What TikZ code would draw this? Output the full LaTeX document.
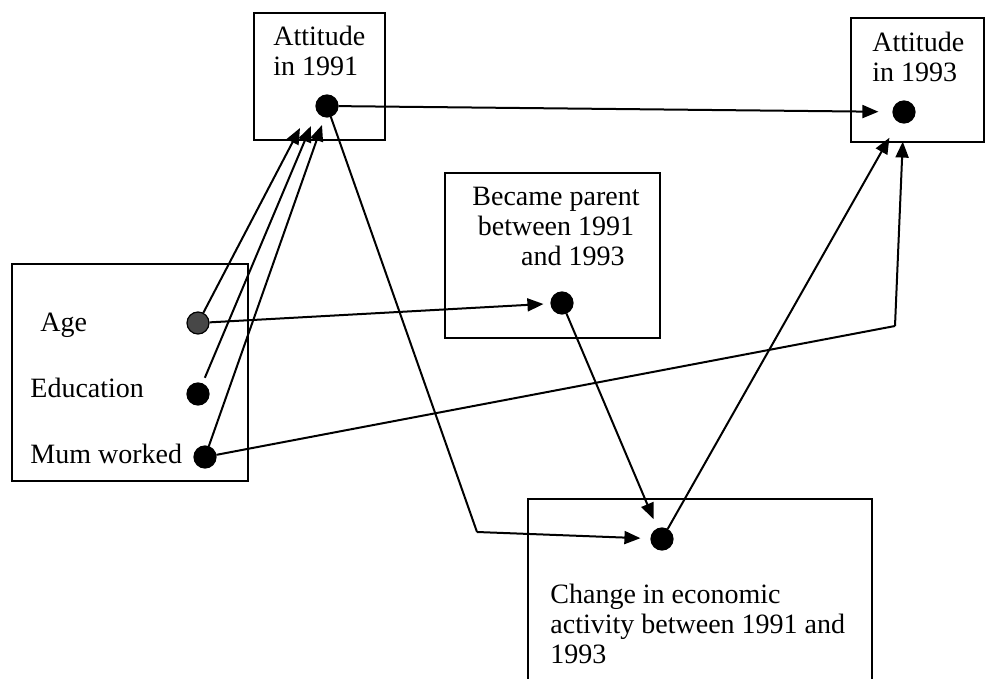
\documentclass[tikz,border=0pt]{standalone}
\usepackage{fontspec}
\setmainfont{Liberation Serif}
\usetikzlibrary{arrows.meta}
\begin{document}
\begin{tikzpicture}[x=0.5pt,y=-0.5pt,
  box/.style={draw,line width=1pt},
  dot/.style={circle,fill=black,draw=black,line width=0.6pt,inner sep=0pt,minimum size=11pt},
  greydot/.style={dot,fill=black!72},
  conn/.style={line width=1pt,-{Triangle[length=8pt,width=6.5pt]}},
  link/.style={line width=1pt},
  lbl/.style={font=\fontsize{14pt}{15pt}\selectfont,inner sep=0pt,align=left,anchor=base west}
]
\useasboundingbox (0,0) rectangle (986,679);
\fill[white] (0,0) rectangle (986,679);

% frames around the variables
\draw[box] (254,13) rectangle (385,140);
\draw[box] (851,18) rectangle (984,142);
\draw[box] (445,173) rectangle (660,338);
\draw[box] (12,264) rectangle (248,481);
\draw[box] (528,690) -- (528,499) -- (872,499) -- (872,690);

% labels (anchored at the baseline of their last line)
\node[lbl] (l91) at (273,76) {Attitude\\in 1991};
\node[lbl] (l93) at (872,82) {Attitude\\in 1993};
\node[lbl,align=center,anchor=base] (lpar) at (556,266) {Became parent\\between 1991\\\hspace{1.2em}and 1993};
\node[lbl] (lage) at (40,332) {Age};
\node[lbl] (ledu) at (30,398) {Education};
\node[lbl] (lmum) at (30,463) {Mum worked};
\node[lbl] (lchg) at (550,663) {Change in economic\\activity between 1991 and\\1993};

% variable dots
\node[dot] (d91) at (327,106) {};
\node[dot] (d93) at (904,112) {};
\node[dot] (dpar) at (562,303) {};
\node[dot] (dchg) at (662,539) {};
\node[greydot] (dage) at (198,323) {};
\node[dot] (dedu) at (198,394) {};
\node[dot] (dmum) at (205,457) {};

% arrow tips and bends
\coordinate (t1) at (300,128);
\coordinate (t2) at (311,126);
\coordinate (t3) at (322,125);
\coordinate (j1) at (477,532);
\coordinate (j2) at (895,326);

% paths
\draw[conn,shorten >=7pt] (d91) -- (d93);
\draw[conn] (dage) -- (t1);
\draw[conn,shorten <=3pt] (dedu) -- (t2);
\draw[conn] (dmum) -- (t3);
\draw[conn,shorten >=3.5pt] (dage) -- (dpar);
\draw[link] (d91) -- (j1);
\draw[conn,shorten >=5pt] (j1) -- (dchg);
\draw[conn,shorten >=5pt] (dpar) -- (dchg);
\draw[conn,shorten >=9pt] (dchg) -- (d93);
\draw[link] (dmum) -- (j2);
\draw[conn,shorten >=9pt] (j2) -- (d93);
\end{tikzpicture}
\end{document}
